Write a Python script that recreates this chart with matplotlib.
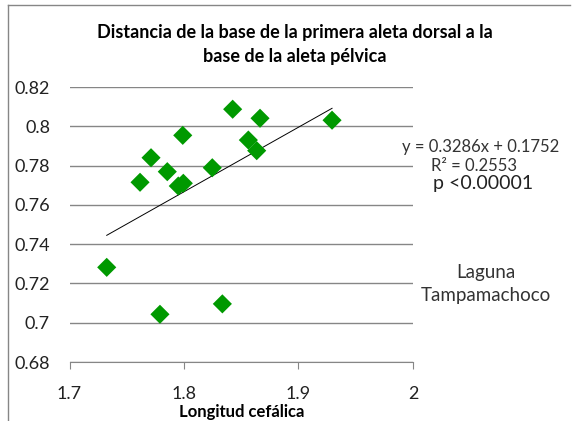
import matplotlib
matplotlib.use("Agg")
import matplotlib.pyplot as plt
from matplotlib.lines import Line2D
import numpy as np

plt.rcParams['font.family'] = ['Lato', 'DejaVu Sans']

# longitud cefálica vs distancia dorsal-pélvica (Laguna Tampamachoco)
longitud = [1.7325, 1.7616, 1.7712, 1.7854, 1.7989, 1.7950, 1.7994,
            1.7790, 1.8247, 1.8425, 1.8562, 1.8635, 1.8664, 1.8335, 1.9293]
distancia = [0.7282, 0.7715, 0.7840, 0.7769, 0.7954, 0.7696, 0.7710,
             0.7043, 0.7789, 0.8087, 0.7930, 0.7876, 0.8041, 0.7096, 0.8031]

pendiente = 0.3286
intercepto = 0.1752
r2 = 0.2553

x_ticks = [1.7, 1.8, 1.9, 2.0]
x_labels = ['1.7', '1.8', '1.9', '2']
y_ticks = [0.68, 0.70, 0.72, 0.74, 0.76, 0.78, 0.80, 0.82]
y_labels = ['0.68', '0.7', '0.72', '0.74', '0.76', '0.78', '0.8', '0.82']

fig = plt.figure(figsize=(5.74, 4.21), dpi=100)
ax = fig.add_axes([0.1211, 0.1401, 0.5984, 0.6532])

# Excel-style trendline over the data range
xs = np.array([min(longitud), max(longitud)])
ax.plot(xs, pendiente * xs + intercepto, color='black', linewidth=0.7, zorder=3)

ax.scatter(longitud, distancia, marker='D', s=95, color='#009900',
           edgecolors='none', zorder=4)

ax.set_xlim(1.7, 2.0)
ax.set_ylim(0.68, 0.82)
ax.set_xticks(x_ticks)
ax.set_xticklabels(x_labels, fontsize=13, color='#222222')
ax.set_yticks(y_ticks)
ax.set_yticklabels(y_labels, fontsize=13, color='#222222')
ax.yaxis.grid(True, color='#868686', linewidth=1)
ax.set_axisbelow(True)
for side in ['top', 'right', 'left']:
    ax.spines[side].set_visible(False)
ax.spines['bottom'].set_color('#868686')
ax.tick_params(axis='y', length=0, pad=14)
ax.tick_params(axis='x', length=5, color='#868686', pad=12)

ax.set_xlabel('Longitud cefálica', fontsize=12, fontweight='bold', labelpad=2)

fig.text(0.514, 0.894, 'Distancia de la base de la primera aleta dorsal a la\nbase de la aleta pélvica',
         ha='center', va='center', fontsize=13, fontweight='bold', linespacing=1.5)

fig.text(0.838, 0.651, f'y = {pendiente}x + {intercepto}', ha='center', va='center',
         fontsize=12, color='#333333')
fig.text(0.825, 0.606, f'R² = {r2}', ha='center', va='center',
         fontsize=12, color='#333333')
fig.text(0.842, 0.563, 'p <0.00001', ha='center', va='center',
         fontsize=14, color='#222222')
fig.text(0.847, 0.326, 'Laguna\nTampamachoco', ha='center', va='center',
         fontsize=13.5, color='#333333', linespacing=1.45)

# chart border (top and left visible)
fig.add_artist(Line2D([0.014, 0.993], [0.988, 0.988], color='#868686', linewidth=1,
                      transform=fig.transFigure))
fig.add_artist(Line2D([0.014, 0.014], [0.0, 0.988], color='#868686', linewidth=1,
                      transform=fig.transFigure))

fig.savefig('out.png', dpi=100)
